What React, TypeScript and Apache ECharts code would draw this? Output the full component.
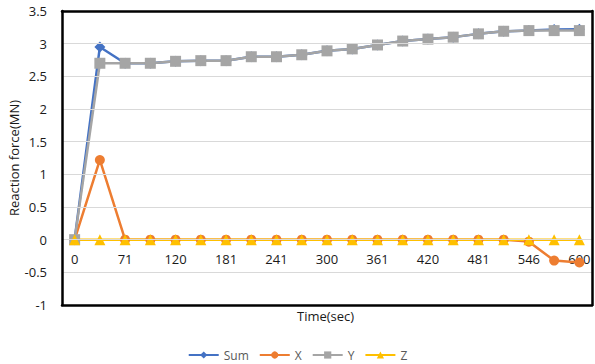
import React, { useEffect, useRef } from "react";
import * as echarts from "echarts";

const times = ["0", "35", "71", "95", "120", "150", "181", "211", "241", "270", "300", "330", "361", "390", "420", "450", "481", "513", "546", "573", "600"];
const sumValues = [0, 2.95, 2.7, 2.7, 2.73, 2.74, 2.74, 2.8, 2.8, 2.83, 2.89, 2.92, 2.98, 3.04, 3.07, 3.1, 3.15, 3.19, 3.2, 3.215, 3.22];
const xValues = [0, 1.22, 0, 0, 0, 0, 0, 0, 0, 0, 0, 0, 0, 0, 0, 0, 0, 0, -0.03, -0.32, -0.35];
const yValues = [0, 2.7, 2.7, 2.7, 2.73, 2.74, 2.74, 2.8, 2.8, 2.83, 2.89, 2.92, 2.98, 3.04, 3.07, 3.1, 3.15, 3.19, 3.2, 3.2, 3.2];
const zValues = [0, 0, 0, 0, 0, 0, 0, 0, 0, 0, 0, 0, 0, 0, 0, 0, 0, 0, 0, 0, 0];
const yTicks = { min: -1, max: 3.5, interval: 0.5 };

const FONT = "Open Sans";
const G = { left: 62, right: 3, top: 11, bottom: 59 };
const W = 595;
const H = 364;

export default function App() {
  const ref = useRef<HTMLDivElement>(null);
  useEffect(() => {
    if (!ref.current) return;
    const chart = echarts.init(ref.current, null, { renderer: "svg" });
    const mk = (name: string, data: number[], color: string, symbol: string, size: number) => ({
      name,
      type: "line",
      data,
      symbol,
      symbolSize: size,
      lineStyle: { color, width: 2.5 },
      itemStyle: { color },
      z: 2,
    });
    const plotH = H - G.top - G.bottom;
    const zeroOffset = -plotH * (0 - yTicks.min) / (yTicks.max - yTicks.min);
    const border = { show: true, onZero: false, lineStyle: { color: "#000", width: 2.5 } };
    const frameX = (position: string) => ({
      type: "category",
      data: times,
      position,
      boundaryGap: true,
      axisLine: border,
      axisTick: { show: false },
      axisLabel: { show: false },
      splitLine: { show: false },
      z: 5,
    });
    chart.setOption({
      animation: false,
      textStyle: { fontFamily: FONT },
      grid: {
        left: G.left,
        right: G.right,
        top: G.top,
        bottom: G.bottom,
        containLabel: false,
        outerBoundsMode: "none",
      },
      legend: {
        top: 344,
        left: "center",
        itemWidth: 30,
        itemHeight: 9,
        itemGap: 10,
        textStyle: { fontFamily: FONT, fontSize: 12, color: "#595959" },
        data: ["Sum", "X", "Y", "Z"],
      },
      graphic: [
        {
          type: "text",
          left: 297,
          top: 309,
          style: { text: "Time(sec)", font: `13px '${FONT}'`, fill: "#1a1a1a" },
        },
      ],
      xAxis: [
        {
          type: "category",
          data: times,
          boundaryGap: true,
          position: "bottom",
          offset: zeroOffset,
          axisLine: { show: true, onZero: false, lineStyle: { color: "#d9d9d9" } },
          axisTick: { show: false },
          axisLabel: { interval: 1, margin: 13, fontSize: 13, color: "#1a1a1a", fontFamily: FONT },
          splitLine: { show: false },
        },
        frameX("bottom"),
        frameX("top"),
      ],
      yAxis: [
        {
          type: "value",
          min: yTicks.min,
          max: yTicks.max,
          interval: yTicks.interval,
          position: "left",
          name: "Reaction force(MN)",
          nameLocation: "middle",
          nameGap: 42,
          nameMoveOverlap: false,
          nameTextStyle: { fontSize: 13, color: "#1a1a1a", fontFamily: FONT },
          axisLine: border,
          axisTick: { show: false },
          axisLabel: { margin: 15, fontSize: 13, color: "#1a1a1a", fontFamily: FONT },
          splitLine: { lineStyle: { color: "#d9d9d9", width: 1 } },
          z: 5,
        },
        {
          type: "value",
          min: yTicks.min,
          max: yTicks.max,
          interval: yTicks.interval,
          position: "right",
          axisLine: border,
          axisTick: { show: false },
          axisLabel: { show: false },
          splitLine: { show: false },
          z: 5,
        },
      ],
      series: [
        mk("Sum", sumValues, "#4472C4", "diamond", 11),
        mk("X", xValues, "#ED7D31", "circle", 10),
        mk("Y", yValues, "#A5A5A5", "rect", 11),
        mk("Z", zValues, "#FFC000", "triangle", 11),
      ],
    });
    return () => chart.dispose();
  }, []);
  return (
    <div style={{ position: "fixed", left: 0, top: 0, width: W, height: H, background: "#fff" }}>
      <div ref={ref} style={{ width: W, height: H }} />
    </div>
  );
}
